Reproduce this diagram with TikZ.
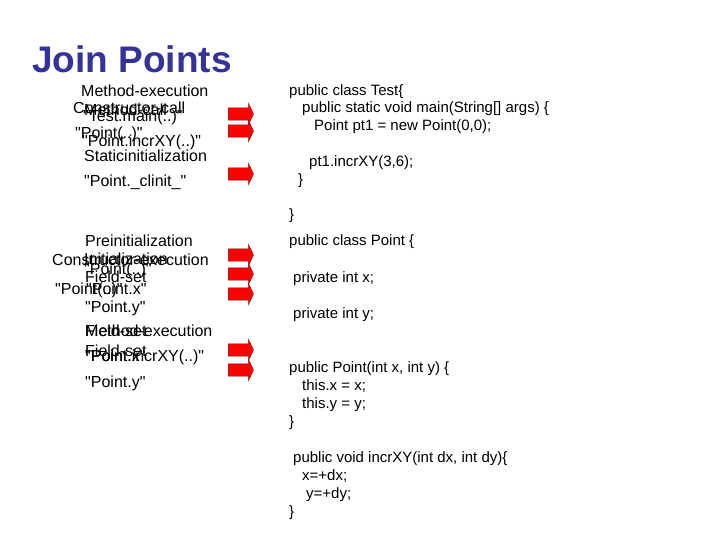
\documentclass[tikz,border=0pt]{standalone}
\usepackage{fontspec}
\setmainfont{Liberation Sans}
\usepackage{xcolor}
\usepackage{tikz}
\usetikzlibrary{shapes.arrows}
\definecolor{titleblue}{HTML}{333399}
\definecolor{jpred}{HTML}{FF0000}
\definecolor{jpdark}{HTML}{800000}
\newcommand{\qt}[1]{\textquotedbl#1\textquotedbl}

\begin{document}
\begin{tikzpicture}[x=1pt, y=-1pt,
    heading/.style={anchor=base west, inner sep=0, font=\fontsize{37}{40}\selectfont\bfseries, text=titleblue},
    jp/.style={anchor=base west, inner sep=0, font=\fontsize{16}{18}\selectfont},
    code/.style={anchor=base west, inner sep=0, font=\fontsize{15}{17}\selectfont},
    blockarrow/.style={single arrow, draw=jpdark, fill=jpred, minimum height=25pt, single arrow head extend=4.5pt, single arrow tip angle=130, inner sep=0pt}
]
    \useasboundingbox (0,0) rectangle (720,540);

    % Title
    \node[heading] (title) at (32,73) {Join Points};

    % Join points in Test
    \node[jp] (mexec) at (81,97) {Method-execution};
    \node[jp] (ccall) at (73,114) {Constructor-call};
    \node[jp] (mcall) at (84,116) {Method-call};
    \node[jp] (testmain) at (83,122) {\qt{Test.main(..)}};
    \node[jp] (pointsig) at (75,139) {\qt{Point(..)}};
    \node[jp] (incrsig) at (82,147) {\qt{Point.incrXY(..)}};
    \node[jp] (sinit) at (84,162) {Staticinitialization};
    \node[jp] (clinit) at (84,187) {\qt{Point.\_clinit\_}};

    % Join points in Point
    \node[jp] (preinit) at (85,246) {Preinitialization};
    \node[jp] (cexec) at (52,265) {Constructor-execution};
    \node[jp] (init) at (84,264) {Initialization};
    \node[jp] (initsig) at (84,274) {\qt{Point(..)}};
    \node[jp] (fsetx) at (85,282) {Field-set};
    \node[jp] (cexecsig) at (55,294) {\qt{Point(..)}};
    \node[jp] (fieldx) at (86,294) {\qt{Point.x}};
    \node[jp] (fieldy) at (85,312) {\qt{Point.y}};
    \node[jp] (mexec2) at (85,336) {Method-execution};
    \node[jp] (fset2) at (85,336) {Field-set};
    \node[jp] (fset3) at (85,356) {Field-set};
    \node[jp] (incrsig2) at (85,361) {\qt{Point.incrXY(..)}};
    \node[jp] (fieldx2) at (85,361) {\qt{Point.x}};
    \node[jp] (fieldy2) at (85,387) {\qt{Point.y}};

    % Arrows
    \node[blockarrow] (a1) at (239.5,114) {\rule{0pt}{12pt}};
    \node[blockarrow] (a2) at (239.5,131) {\rule{0pt}{12pt}};
    \node[blockarrow] (a3) at (239.5,174) {\rule{0pt}{12pt}};
    \node[blockarrow] (a4) at (239.5,255) {\rule{0pt}{12pt}};
    \node[blockarrow] (a5) at (239.5,274) {\rule{0pt}{12pt}};
    \node[blockarrow] (a6) at (239.5,294) {\rule{0pt}{12pt}};
    \node[blockarrow] (a7) at (239.5,350) {\rule{0pt}{12pt}};
    \node[blockarrow] (a8) at (239.5,370) {\rule{0pt}{12pt}};

    % Code
    \node[code] (testcls) at (289,96) {public class Test\{};
    \node[code] (mainsig) at (302,113) {public static void main(String[] args) \{};
    \node[code] (newpt) at (314,131) {Point pt1 = new Point(0,0);};
    \node[code] (incrcall) at (309,167) {pt1.incrXY(3,6);};
    \node[code] (mainend) at (298,185) {\}};
    \node[code] (testend) at (289,220) {\}};
    \node[code] (pointcls) at (289,245) {public class Point \{};
    \node[code] (xdecl) at (293,282) {private int x;};
    \node[code] (ydecl) at (293,318) {private int y;};
    \node[code] (ctor) at (289,372) {public Point(int x, int y) \{};
    \node[code] (setx) at (302,390) {this.x = x;};
    \node[code] (sety) at (302,408) {this.y = y;};
    \node[code] (ctorend) at (289,426) {\}};
    \node[code] (incrdef) at (293,462) {public void incrXY(int dx, int dy)\{};
    \node[code] (addx) at (302,480) {x=+dx;};
    \node[code] (addy) at (306,498) {y=+dy;};
    \node[code] (incrend) at (289,516) {\}};
\end{tikzpicture}
\end{document}
